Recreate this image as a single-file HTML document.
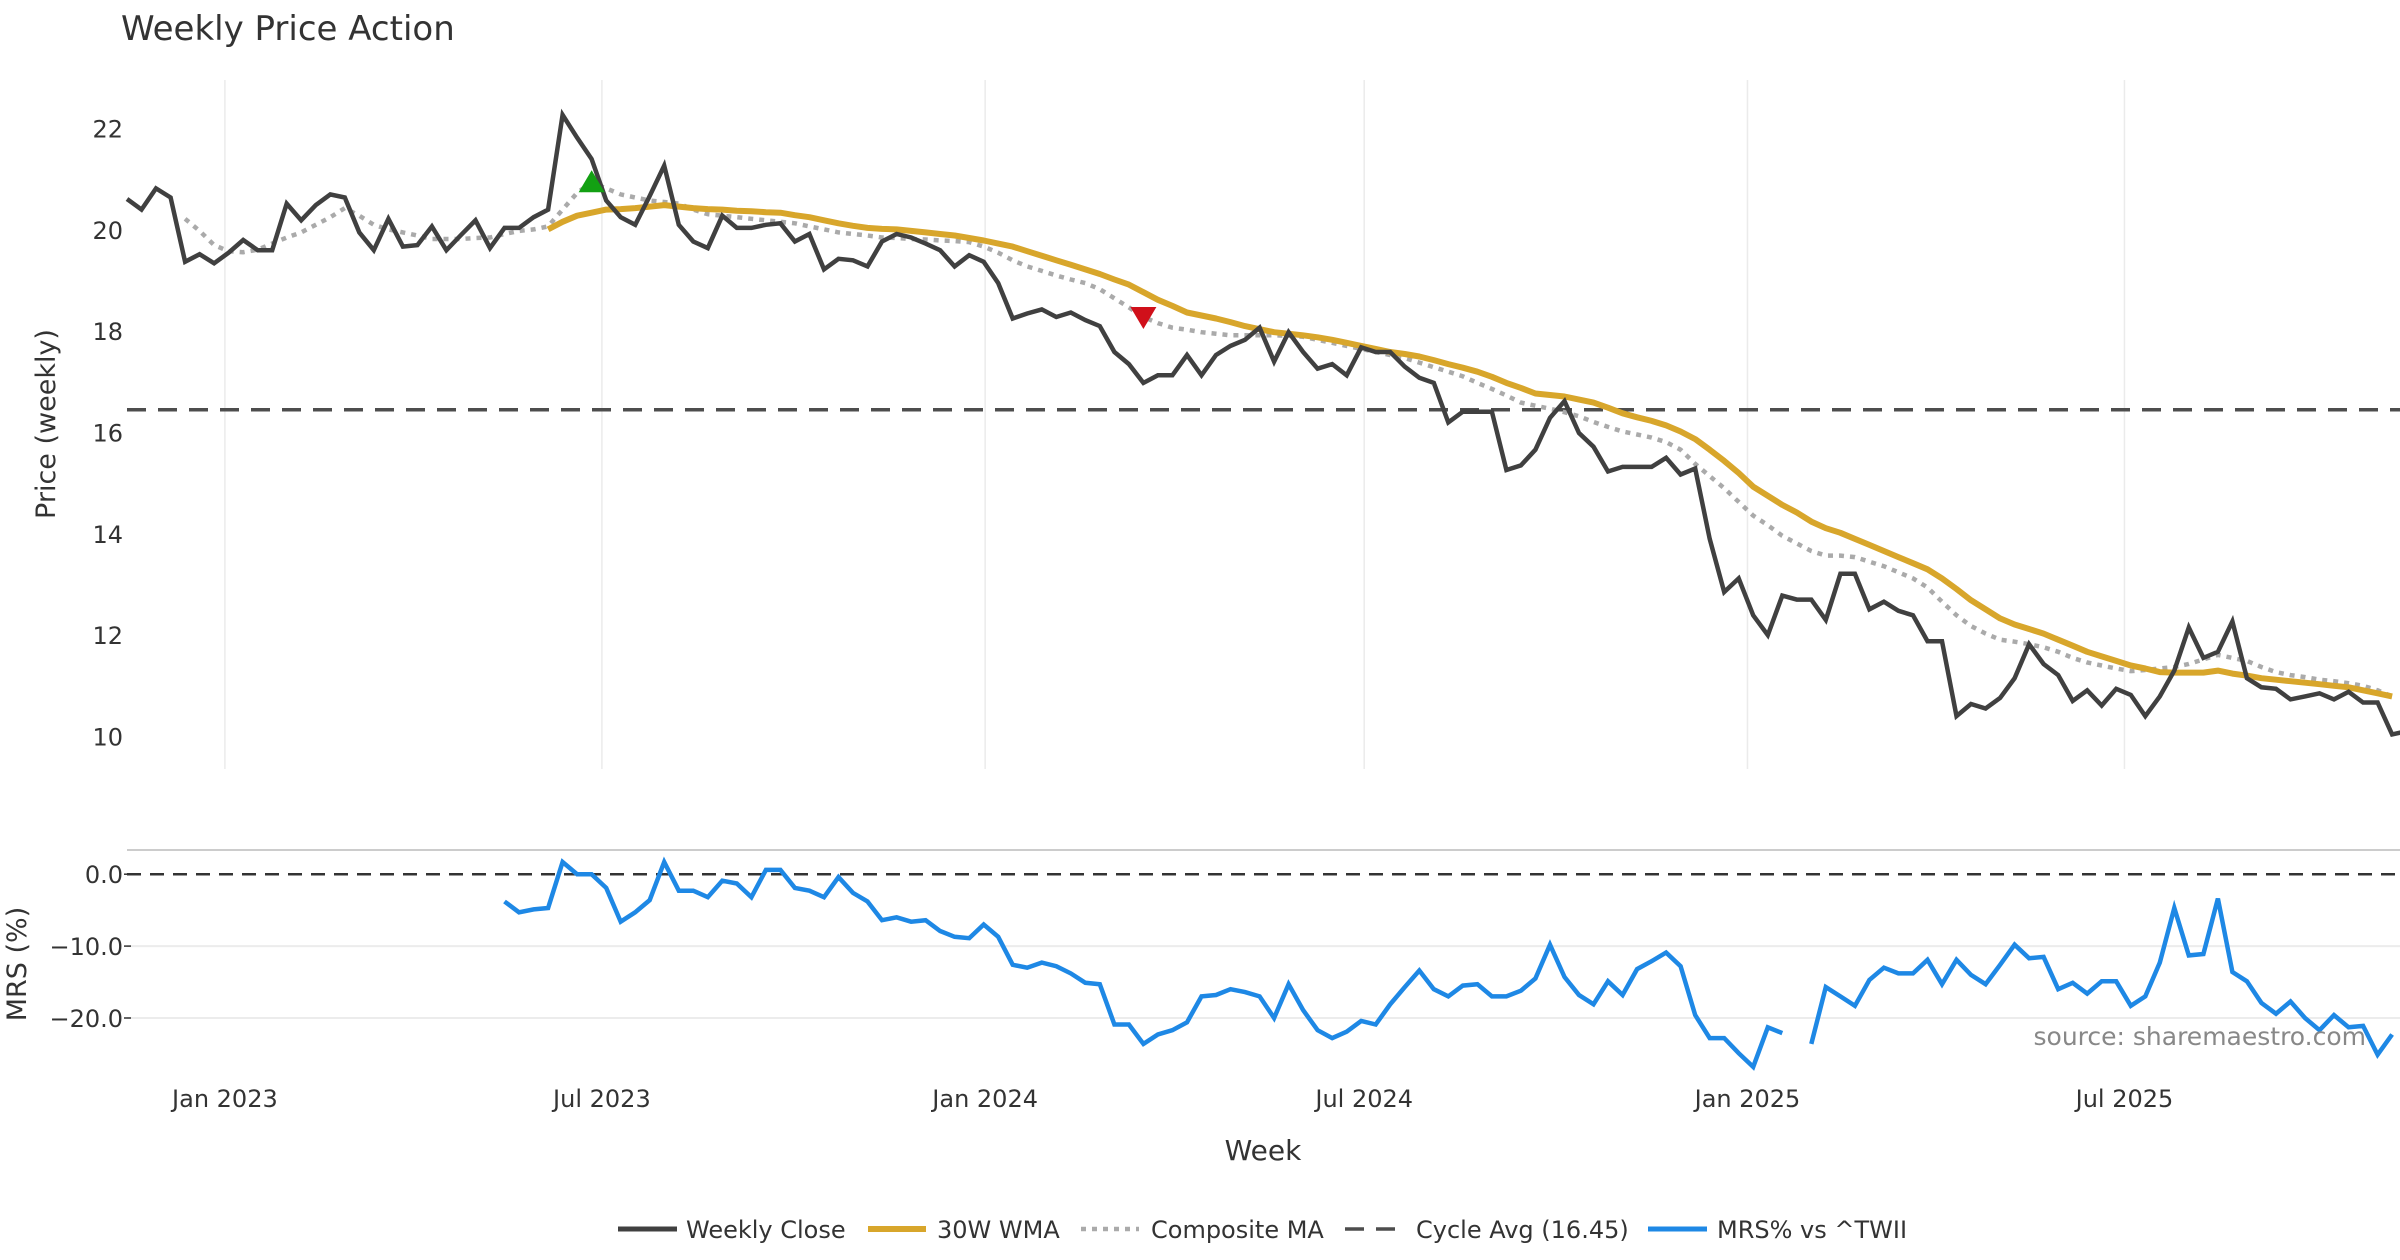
<!DOCTYPE html>
<html><head><meta charset="utf-8"><title>Weekly Price Action</title>
<style>
html,body{margin:0;padding:0;background:#fff;}
svg{display:block;font-family:"DejaVu Sans","Liberation Sans",sans-serif;}
</style></head>
<body>
<svg id="chart" width="2400" height="1260" viewBox="0 0 2400 1260" xmlns="http://www.w3.org/2000/svg">
<text x="121" y="40" font-size="34" fill="#333">Weekly Price Action</text>
<g id="grid"></g>
<g id="price"></g>
<g id="mrs"></g>
<g id="axes"></g>
<text transform="translate(55,424) rotate(-90)" text-anchor="middle" font-size="27" fill="#333">Price (weekly)</text>
<text transform="translate(26,964) rotate(-90)" text-anchor="middle" font-size="27" fill="#333">MRS (%)</text>
<text x="1263" y="1160" text-anchor="middle" font-size="28" fill="#333">Week</text>
<text x="2366" y="1045" text-anchor="end" font-size="25" fill="#888">source: sharemaestro.com</text>
<g id="legend"></g>
</svg>
<script>
const closeValues=[20.61,20.40,20.82,20.64,19.37,19.52,19.34,19.55,19.80,19.60,
19.60,20.52,20.19,20.49,20.70,20.64,19.95,19.60,20.22,19.67,
19.70,20.07,19.60,19.90,20.19,19.64,20.04,20.04,20.25,20.40,
22.27,21.82,21.40,20.58,20.25,20.10,20.67,21.27,20.10,19.77,
19.64,20.28,20.04,20.04,20.10,20.13,19.77,19.92,19.22,19.43,
19.40,19.28,19.77,19.92,19.85,19.73,19.60,19.28,19.50,19.37,
18.95,18.25,18.35,18.43,18.28,18.37,18.22,18.10,17.59,17.35,
16.98,17.13,17.13,17.53,17.13,17.53,17.71,17.83,18.07,17.40,
17.98,17.59,17.26,17.35,17.13,17.68,17.59,17.59,17.30,17.08,
16.98,16.20,16.41,16.41,16.41,15.26,15.35,15.66,16.29,16.62,
15.99,15.72,15.23,15.32,15.32,15.32,15.50,15.17,15.29,13.90,
12.85,13.12,12.39,12.00,12.78,12.70,12.70,12.30,13.21,13.21,
12.51,12.66,12.48,12.39,11.88,11.88,10.40,10.64,10.55,10.76,
11.15,11.82,11.43,11.21,10.70,10.91,10.61,10.94,10.82,10.40,
10.79,11.30,12.15,11.55,11.67,12.27,11.15,10.97,10.94,10.73,
10.79,10.85,10.73,10.88,10.67,10.67,10.04,10.10];
const wmaStart=29;
const wmaValues=[20.01,20.16,20.28,20.34,20.40,20.41,20.43,20.46,20.49,20.46,20.43,20.41,20.40,20.38,20.37,20.35,20.34,20.29,20.25,20.19,
20.13,20.08,20.04,20.02,20.01,19.98,19.95,19.92,19.89,19.84,19.79,19.73,19.67,19.58,19.49,19.40,19.31,19.22,19.13,19.02,
18.92,18.77,18.62,18.50,18.37,18.31,18.25,18.18,18.10,18.04,17.98,17.95,17.92,17.88,17.83,17.77,17.71,17.65,17.59,17.55,
17.50,17.43,17.35,17.28,17.20,17.10,16.98,16.88,16.77,16.74,16.71,16.65,16.59,16.49,16.38,16.30,16.23,16.14,16.02,15.87,
15.66,15.44,15.20,14.93,14.75,14.57,14.42,14.24,14.11,14.02,13.90,13.78,13.66,13.54,13.42,13.30,13.12,12.91,12.69,12.51,
12.33,12.21,12.12,12.03,11.91,11.79,11.67,11.58,11.49,11.40,11.34,11.27,11.26,11.26,11.26,11.30,11.24,11.20,11.15,11.12,
11.09,11.06,11.03,11.00,10.97,10.91,10.85,10.79];
const compStart=4;
const compValues=[20.22,19.98,19.70,19.58,19.56,19.61,19.73,19.85,19.95,20.10,20.25,20.43,20.28,20.10,20.01,19.95,19.89,19.82,19.82,19.82,
19.84,19.85,19.92,19.98,20.01,20.07,20.40,20.73,20.94,20.82,20.70,20.64,20.58,20.55,20.52,20.40,20.31,20.28,20.25,20.22,
20.19,20.16,20.13,20.07,20.01,19.95,19.92,19.89,19.85,19.84,19.82,19.81,19.79,19.78,19.76,19.67,19.55,19.40,19.28,19.19,
19.10,19.02,18.95,18.83,18.65,18.47,18.28,18.16,18.07,18.03,17.98,17.95,17.92,17.92,17.92,17.92,17.91,17.89,17.83,17.77,
17.71,17.65,17.59,17.53,17.47,17.38,17.29,17.20,17.11,16.98,16.86,16.73,16.59,16.53,16.47,16.40,16.32,16.21,16.11,16.02,
15.96,15.90,15.81,15.66,15.38,15.14,14.90,14.63,14.36,14.17,13.96,13.81,13.66,13.57,13.57,13.54,13.45,13.36,13.24,13.12,
12.94,12.66,12.39,12.18,12.03,11.91,11.87,11.82,11.76,11.67,11.55,11.46,11.40,11.34,11.29,11.31,11.34,11.37,11.43,11.52,
11.61,11.55,11.49,11.37,11.27,11.21,11.17,11.12,11.09,11.05,11.00,10.91,10.79];
const mrsStart=26;
const mrsValues=[-3.8,-5.3,-4.9,-4.7,1.7,0,0,-1.9,-6.6,-5.3,-3.6,1.7,-2.3,-2.3,-3.2,-0.9,-1.3,-3.2,0.6,0.6,
-1.9,-2.3,-3.2,-0.4,-2.6,-3.8,-6.4,-6.0,-6.6,-6.4,-7.9,-8.7,-8.9,-7.0,-8.7,-12.6,-13.0,-12.3,-12.8,-13.8,
-15.1,-15.3,-20.9,-20.9,-23.6,-22.3,-21.7,-20.6,-17.0,-16.8,-16.0,-16.4,-17.0,-20.0,-15.3,-18.9,-21.7,-22.8,-21.9,-20.4,
-20.9,-18.1,-15.7,-13.4,-16.0,-17.0,-15.5,-15.3,-17.0,-17.0,-16.2,-14.5,-9.8,-14.3,-16.8,-18.1,-14.9,-16.8,-13.2,-12.1,
-10.9,-12.8,-19.6,-22.8,-22.8,-24.9,-26.8,-21.3,-22.1,null,-23.6,-15.7,-17.0,-18.3,-14.7,-13.0,-13.8,-13.8,-11.9,-15.3,
-11.9,-14.0,-15.3,-12.6,-9.8,-11.7,-11.5,-16.0,-15.1,-16.6,-14.9,-14.9,-18.3,-17.0,-12.3,-4.7,-11.3,-11.1,-3.4,-13.6,
-14.9,-17.9,-19.4,-17.7,-20.0,-21.7,-19.6,-21.3,-21.1,-25.1,-22.3];
const cycleAvg=16.45;
const buySignalIndex=32;
const sellSignalIndex=70;
const priceTicks=[10,12,14,16,18,20,22];
const mrsTicks=[0,-10,-20];
const mrsTickLabels=["0.0","\u221210.0","\u221220.0"];
const xTickDates=["2023-01-01","2023-07-01","2024-01-01","2024-07-01","2025-01-01","2025-07-01"];
const xTickLabels=["Jan 2023","Jul 2023","Jan 2024","Jul 2024","Jan 2025","Jul 2025"];

const NS="http://www.w3.org/2000/svg";
const X0=127, DX=14.52, DXD=14.58;
const startDate=new Date("2022-11-15T00:00:00Z");
function xIdx(i){return X0+i*DX;}
function xDate(s){const d=(new Date(s+"T00:00:00Z")-startDate)/86400000/7;return X0+d*DXD;}
function yP(v){return 128.6+(22-v)*(736.4-128.6)/12;}
function yM(v){return 874.2-v*7.19;}
function mk(tag,attrs,parent){const e=document.createElementNS(NS,tag);for(const k in attrs)e.setAttribute(k,attrs[k]);parent.appendChild(e);return e;}
function pathFrom(vals,start,yf){let d="",pen=false;vals.forEach((v,k)=>{if(v===null){pen=false;return;}const x=xIdx(start+k).toFixed(1),y=yf(v).toFixed(1);d+=(pen?"L":"M")+x+","+y;pen=true;});return d;}

const grid=document.getElementById('grid');
const axes=document.getElementById('axes');
const price=document.getElementById('price');
const mrs=document.getElementById('mrs');

xTickDates.forEach((d,k)=>{
  const x=xDate(d);
  const g=mk('line',{x1:x,x2:x,y1:80,y2:769,stroke:'#ebebeb','stroke-width':1.5},grid);
  
  
  const t=mk('text',{x:x,y:1107,'text-anchor':'middle','font-size':24,fill:'#333'},axes);
  t.textContent=xTickLabels[k];
  
  
});
priceTicks.forEach(v=>{
  const t=mk('text',{x:123,y:yP(v)+9,'text-anchor':'end','font-size':24,fill:'#333'},axes);
  t.textContent=String(v);
  
  
});
mrsTicks.forEach((v,k)=>{
  if(v!==0){const g=mk('line',{x1:127,x2:2400,y1:yM(v),y2:yM(v),stroke:'#ececec','stroke-width':2},grid);
  
  }
  const t=mk('text',{x:123,y:yM(v)+9,'text-anchor':'end','font-size':24,fill:'#333'},axes);
  t.textContent=mrsTickLabels[k];
  
  
  const tk=mk('line',{x1:124,x2:131,y1:yM(v),y2:yM(v),stroke:'#333','stroke-width':1.5},axes);
  
  
});
const sep=mk('line',{x1:127,x2:2400,y1:850,y2:850,stroke:'#cccccc','stroke-width':2},axes);



const cyc=mk('line',{x1:127,x2:2400,y1:yP(cycleAvg),y2:yP(cycleAvg),stroke:'#4d4d4d','stroke-width':3.5,'stroke-dasharray':'19 12'},price);


const comp=mk('path',{d:pathFrom(compValues,compStart,yP),fill:'none',stroke:'#aaaaaa','stroke-width':4.5,'stroke-dasharray':'5 6'},price);


const wma=mk('path',{d:pathFrom(wmaValues,wmaStart,yP),fill:'none',stroke:'#d8a62b','stroke-width':6,'stroke-linejoin':'round'},price);


const cl=mk('path',{d:pathFrom(closeValues,0,yP),fill:'none',stroke:'#404040','stroke-width':4.5,'stroke-linejoin':'miter'},price);


{
  const x=xIdx(buySignalIndex),y=yP(compValues[buySignalIndex-compStart]);
  const b=mk('polygon',{points:`${x-13},${y+10} ${x+13},${y+10} ${x},${y-12}`,fill:'#13a013'},price);
  
  
  const x2=xIdx(sellSignalIndex),y2=yP(compValues[sellSignalIndex-compStart]);
  const s=mk('polygon',{points:`${x2-13},${y2-10} ${x2+13},${y2-10} ${x2},${y2+12}`,fill:'#d0101a'},price);
  
  
}
const zero=mk('line',{x1:127,x2:2400,y1:yM(0),y2:yM(0),stroke:'#333','stroke-width':2.5,'stroke-dasharray':'14 9'},mrs);


const ml=mk('path',{d:pathFrom(mrsValues,mrsStart,yM),fill:'none',stroke:'#1e88e5','stroke-width':4.5},mrs);



const legend=document.getElementById('legend');
const items=[
 {n:'Weekly Close',x1:618,x2:677,tx:686,st:{stroke:'#404040','stroke-width':5}},
 {n:'30W WMA',x1:868,x2:926,tx:937,st:{stroke:'#d8a62b','stroke-width':6}},
 {n:'Composite MA',x1:1081,x2:1139,tx:1151,st:{stroke:'#aaaaaa','stroke-width':4.5,'stroke-dasharray':'5 6'}},
 {n:'Cycle Avg (16.45)',x1:1345,x2:1402,tx:1416,st:{stroke:'#4d4d4d','stroke-width':3.5,'stroke-dasharray':'19 12'}},
 {n:'MRS% vs ^TWII',x1:1648,x2:1707,tx:1717,st:{stroke:'#1e88e5','stroke-width':5}}
];
items.forEach(it=>{
  const g=mk('g',{},legend);
  
  
  const a=Object.assign({x1:it.x1,x2:it.x2,y1:1229,y2:1229},it.st);
  const l=mk('line',a,g);
  
  
  const t=mk('text',{x:it.tx,y:1238,'font-size':24,fill:'#333'},g);
  t.textContent=it.n;
  
  
});
</script>
</body></html>
